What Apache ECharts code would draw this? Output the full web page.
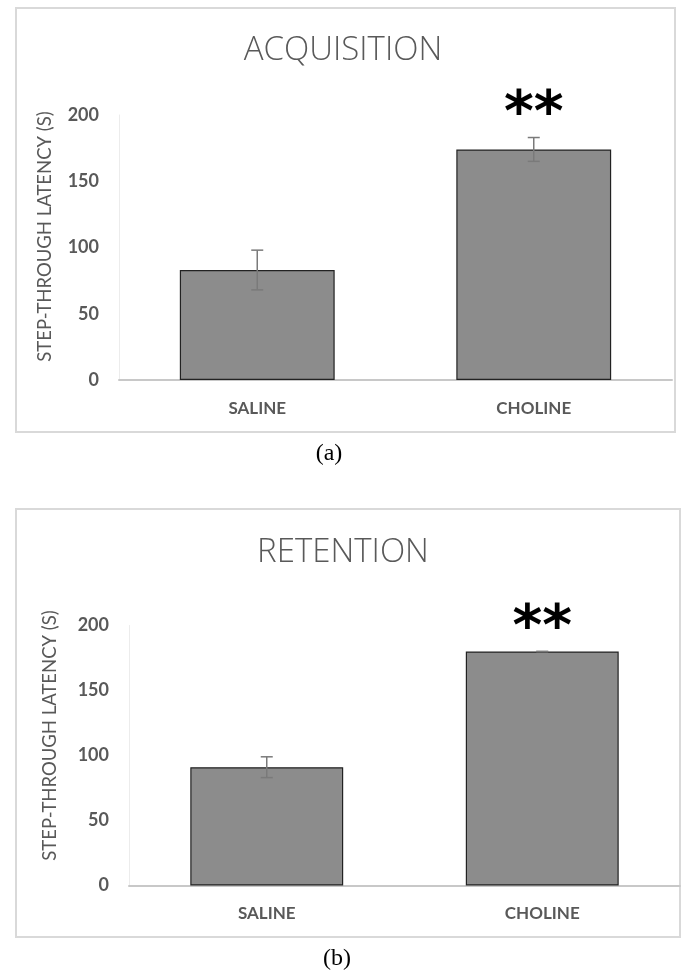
<!DOCTYPE html>
<html>
<head>
<meta charset="utf-8">
<script src="https://cdn.jsdelivr.net/npm/echarts@6/dist/echarts.min.js"></script>
<style>
  html, body { margin: 0; padding: 0; background: #ffffff; }
  #chart { width: 686px; height: 976px; }
</style>
</head>
<body>
<div id="chart"></div>
<script>
// ---- data ----
const categories = ['SALINE', 'CHOLINE'];
const acquisitionMeans = [83, 174];
const acquisitionErrors = [15, 9];
const retentionMeans = [91, 180];
const retentionErrors = [8, 0];
const significance = ['', '**'];
const yTicks = [0, 50, 100, 150, 200];
const panelTitles = ['ACQUISITION', 'RETENTION'];
const panelLetters = ['(a)', '(b)'];
const yAxisTitle = 'STEP-THROUGH LATENCY (S)';

// ---- styles ----
const labelColor = '#595959';
const sansFont = 'Lato, "Open Sans", sans-serif';

const chart = echarts.init(document.getElementById('chart'), null, { renderer: 'canvas' });

function errorRender(params, api) {
  const i = api.value(0), v = api.value(1), e = api.value(2);
  const top = api.coord([i, v + e]);
  const bot = api.coord([i, v - e]);
  const half = 6;
  const style = { stroke: '#7a7a7a', lineWidth: 1.5 };
  return {
    type: 'group',
    children: [
      { type: 'line', shape: { x1: top[0], y1: top[1], x2: bot[0], y2: bot[1] }, style: style },
      { type: 'line', shape: { x1: top[0] - half, y1: top[1], x2: top[0] + half, y2: top[1] }, style: style },
      { type: 'line', shape: { x1: bot[0] - half, y1: bot[1], x2: bot[0] + half, y2: bot[1] }, style: style }
    ]
  };
}

function starRender(params, api) {
  const i = api.value(0), v = api.value(1), e = api.value(2);
  const txt = significance[i];
  if (!txt) return null;
  const p = api.coord([i, v + e]);
  return {
    type: 'text',
    x: p[0], y: p[1] - 21,
    style: {
      text: txt, fill: '#000000', align: 'center', verticalAlign: 'middle',
      font: 'bold 57px "DejaVu Sans", sans-serif'
    }
  };
}

function errData(means, errs) {
  return means.map((m, i) => [i, m, errs[i]]);
}

function xAxisCfg(gridIndex) {
  return {
    type: 'category', gridIndex: gridIndex, data: categories,
    axisLine: { show: true, lineStyle: { color: '#c8c8c8', width: 2 } },
    axisTick: { show: false },
    axisLabel: { color: labelColor, fontFamily: sansFont, fontWeight: 'bold', fontSize: 17, margin: 20 }
  };
}
function yAxisCfg(gridIndex, gap, shiftPad) {
  return {
    type: 'value', gridIndex: gridIndex, min: yTicks[0], max: yTicks[yTicks.length - 1], interval: 50,
    name: yAxisTitle, nameLocation: 'middle', nameGap: gap, nameRotate: 90,
    nameTextStyle: { color: labelColor, fontFamily: sansFont, fontSize: 18.5, padding: [0, 0, 0, shiftPad] },
    axisLine: { show: true, lineStyle: { color: '#ececec', width: 1 } },
    axisTick: { show: false },
    splitLine: { show: false },
    axisLabel: { color: labelColor, fontFamily: sansFont, fontWeight: 'bold', fontSize: 18, margin: 20 }
  };
}

const titleStyle = { color: labelColor, fontFamily: '"Open Sans", sans-serif', fontWeight: 300, fontSize: 33 };

const option = {
  backgroundColor: '#ffffff',
  animation: false,
  title: [
    { text: panelTitles[0], left: 'center', top: 29, textStyle: titleStyle },
    { text: panelTitles[1], left: 'center', top: 531, textStyle: titleStyle }
  ],
  graphic: [
    { type: 'rect', shape: { x: 16, y: 8, width: 659, height: 424 }, style: { fill: 'none', stroke: '#d9d9d9', lineWidth: 2 }, z: -1 },
    { type: 'rect', shape: { x: 16, y: 509, width: 664, height: 428 }, style: { fill: 'none', stroke: '#d9d9d9', lineWidth: 2 }, z: -1 },
    { type: 'text', x: 329, y: 454, style: { text: panelLetters[0], font: '24px "Liberation Serif", serif', fill: '#000', align: 'center', verticalAlign: 'middle' } },
    { type: 'text', x: 337, y: 959, style: { text: panelLetters[1], font: '24px "Liberation Serif", serif', fill: '#000', align: 'center', verticalAlign: 'middle' } }
  ],
  grid: [
    { left: 119, top: 115, width: 553, height: 265 },
    { left: 129, top: 625.5, width: 551, height: 260 }
  ],
  xAxis: [xAxisCfg(0), xAxisCfg(1)],
  yAxis: [yAxisCfg(0, 64, 22), yAxisCfg(1, 69, 40)],
  series: [
    { type: 'bar', xAxisIndex: 0, yAxisIndex: 0, data: acquisitionMeans, barWidth: '56%',
      itemStyle: { color: '#8c8c8c', borderColor: '#222222', borderWidth: 1.2 } },
    { type: 'custom', xAxisIndex: 0, yAxisIndex: 0, data: errData(acquisitionMeans, acquisitionErrors), renderItem: errorRender, z: 5 },
    { type: 'custom', xAxisIndex: 0, yAxisIndex: 0, data: errData(acquisitionMeans, acquisitionErrors), renderItem: starRender, z: 6, clip: false },
    { type: 'bar', xAxisIndex: 1, yAxisIndex: 1, data: retentionMeans, barWidth: '55.5%',
      itemStyle: { color: '#8c8c8c', borderColor: '#222222', borderWidth: 1.2 } },
    { type: 'custom', xAxisIndex: 1, yAxisIndex: 1, data: errData(retentionMeans, retentionErrors), renderItem: errorRender, z: 5 },
    { type: 'custom', xAxisIndex: 1, yAxisIndex: 1, data: errData(retentionMeans, retentionErrors), renderItem: starRender, z: 6, clip: false }
  ]
};
chart.setOption(option);
</script>
</body>
</html>
